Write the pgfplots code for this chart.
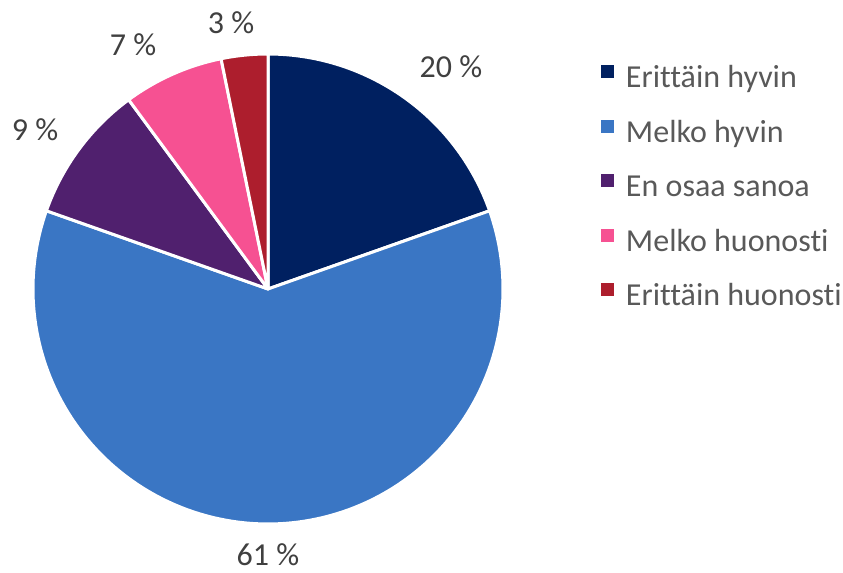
\documentclass[border=0pt]{standalone}
\usepackage{pgfplots}
\pgfplotsset{compat=1.18}
\usepackage{fontspec}
\setmainfont{Carlito}[Ligatures=NoCommon]
\definecolor{c1}{HTML}{002060}
\definecolor{c2}{HTML}{3A76C4}
\definecolor{c3}{HTML}{50206E}
\definecolor{c4}{HTML}{F65192}
\definecolor{c5}{HTML}{AD1E2D}
\definecolor{labgrey}{HTML}{404040}
\definecolor{leggrey}{HTML}{595959}
\begin{document}
\begin{tikzpicture}
\begin{axis}[
  scale only axis, width=421.5pt, height=286.5pt,
  xmin=0, xmax=843, ymin=0, ymax=573,
  hide axis, clip=false,
  legend style={at={(axis cs:601,507.5)}, anchor=north west, draw=none, fill=none,
    inner sep=0pt, outer sep=0pt, row sep=12.5pt,
    nodes={inner sep=0pt, text height=10pt, text depth=3.5pt,
      font=\fontsize{16}{19}\selectfont, text=leggrey},
    /tikz/every odd column/.append style={column sep=6pt}},
  legend cell align=left,
  legend image code/.code={\fill[#1,draw=none] (0pt,1.5pt) rectangle (6.5pt,8pt);},
]
\addplot[draw=none, forget plot] coordinates {(0,0) (843,573)};
% slices: 19.6, 60.8, 9.5, 6.9, 3.2 (percent), clockwise from 12 o'clock
\addplot[fill=c1, draw=white, line width=1.5pt, line join=round, domain=19.44:90, samples=60]
  ({268+235*cos(x)},{284+235*sin(x)}) -- (268,284) -- cycle;
\addlegendentry{Erittäin hyvin}
\addplot[fill=c2, draw=white, line width=1.5pt, line join=round, domain=-199.44:19.44, samples=160]
  ({268+235*cos(x)},{284+235*sin(x)}) -- (268,284) -- cycle;
\addlegendentry{Melko hyvin}
\addplot[fill=c3, draw=white, line width=1.5pt, line join=round, domain=-233.64:-199.44, samples=30]
  ({268+235*cos(x)},{284+235*sin(x)}) -- (268,284) -- cycle;
\addlegendentry{En osaa sanoa}
\addplot[fill=c4, draw=white, line width=1.5pt, line join=round, domain=-258.48:-233.64, samples=25]
  ({268+235*cos(x)},{284+235*sin(x)}) -- (268,284) -- cycle;
\addlegendentry{Melko huonosti}
\addplot[fill=c5, draw=white, line width=1.5pt, line join=round, domain=-270:-258.48, samples=15]
  ({268+235*cos(x)},{284+235*sin(x)}) -- (268,284) -- cycle;
\addlegendentry{Erittäin huonosti}
\begin{scope}[every node/.style={text=labgrey, font=\fontsize{16}{19}\selectfont, inner sep=0pt}]
\node at (axis cs:451,506) {20 \%};
\node at (axis cs:268,18) {61 \%};
\node at (axis cs:35,443) {9 \%};
\node at (axis cs:133,528) {7 \%};
\node at (axis cs:231,550) {3 \%};
\end{scope}
\end{axis}
\end{tikzpicture}
\end{document}
